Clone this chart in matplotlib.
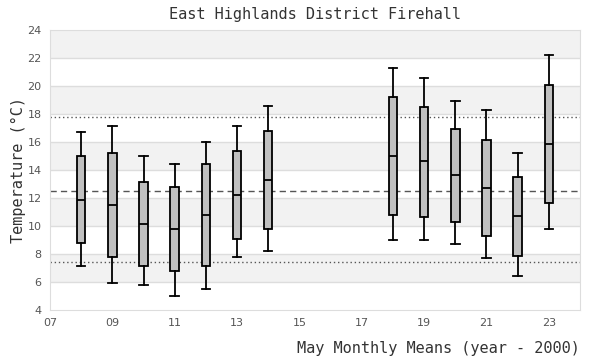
import matplotlib
matplotlib.use('Agg')
import matplotlib.pyplot as plt
from matplotlib.ticker import FuncFormatter

years = [8, 9, 10, 11, 12, 13, 14, 18, 19, 20, 21, 22, 23]
whisker_low = [7.17, 5.9, 5.76, 4.98, 5.48, 7.76, 8.19, 8.98, 8.98, 8.69, 7.69, 6.4, 9.76]
q1 = [8.76, 7.76, 7.12, 6.76, 7.17, 9.1, 9.76, 10.76, 10.67, 10.31, 9.26, 7.83, 11.62]
median = [11.83, 11.48, 10.14, 9.76, 10.76, 12.19, 13.26, 15.0, 14.62, 13.62, 12.69, 10.69, 15.83]
q3 = [15.0, 15.19, 13.12, 12.76, 14.4, 15.33, 16.76, 19.19, 18.48, 16.9, 16.12, 13.48, 20.05]
whisker_high = [16.74, 17.17, 15.0, 14.4, 16.02, 17.17, 18.55, 21.26, 20.55, 18.9, 18.26, 15.19, 22.19]

upper_ref = 17.76
mean_ref = 12.48
lower_ref = 7.4

mono = 'DejaVu Sans Mono'
text_col = '#333333'

fig = plt.figure(figsize=(6, 3.6), dpi=100)
ax = fig.add_axes([50/600, 50/360, 530/600, 280/360])

# alternating bands
for lo in range(4, 24, 2):
    if (lo // 2) % 2 == 1:
        ax.axhspan(lo, lo + 2, color='#f2f2f2', zorder=0, lw=0)
for g in range(6, 24, 2):
    ax.axhline(g, color='#dddddd', lw=1, zorder=0.5)

ax.axhline(upper_ref, color='#555555', lw=1, ls=(0, (1, 2)), zorder=1)
ax.axhline(mean_ref, color='#555555', lw=1, ls=(0, (4.5, 3)), zorder=1)
ax.axhline(lower_ref, color='#555555', lw=1, ls=(0, (1, 2)), zorder=1)

stats = []
for i in range(len(years)):
    stats.append({'whislo': whisker_low[i], 'q1': q1[i], 'med': median[i],
                  'q3': q3[i], 'whishi': whisker_high[i], 'fliers': []})

ax.bxp(stats, positions=years, widths=0.27, patch_artist=True, showfliers=False,
       boxprops=dict(facecolor='#c0c0c0', edgecolor='black', lw=1.3),
       medianprops=dict(color='black', lw=1.3),
       whiskerprops=dict(color='black', lw=1.3),
       capprops=dict(color='black', lw=1.3), capwidths=0.27, zorder=3)

ax.set_xlim(7, 24)
ax.set_ylim(4, 24)
ax.set_xticks(range(7, 24, 2))
ax.xaxis.set_major_formatter(FuncFormatter(lambda v, p: '%02d' % v))
ax.set_yticks(range(4, 25, 2))
ax.tick_params(length=0, labelsize=8, colors='#555555', pad=6)
for s in ax.spines.values():
    s.set_color('#dddddd')

ax.set_title('East Highlands District Firehall', family=mono, fontsize=11,
             color=text_col, pad=8)
ax.set_xlabel('May Monthly Means (year - 2000)', family=mono, fontsize=11,
              color=text_col, loc='right', labelpad=9)
ax.set_ylabel('Temperature (°C)', family=mono, fontsize=11, color=text_col,
              labelpad=1)

plt.savefig('out.png', dpi=100)
